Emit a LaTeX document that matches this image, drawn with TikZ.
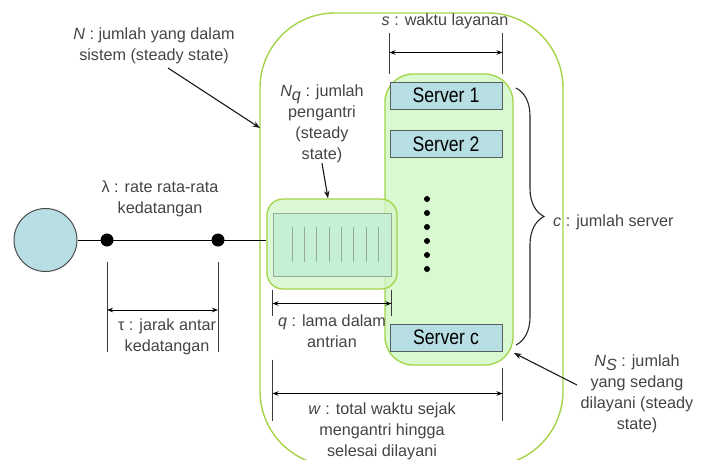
\documentclass[tikz,border=0pt]{standalone}
\usepackage{fontspec}
\setmainfont{Liberation Sans}
\newfontfamily\srvfont[FakeStretch=0.84]{Liberation Sans}
\usetikzlibrary{arrows.meta,decorations.pathreplacing,calc}

\definecolor{limeline}{RGB}{163,212,72}
\definecolor{zonefill}{RGB}{217,249,208}
\definecolor{queuefill}{RGB}{212,246,200}
\definecolor{slotfill}{RGB}{198,240,212}
\definecolor{slotline}{RGB}{150,172,152}
\definecolor{srvblue}{RGB}{183,222,227}
\definecolor{srvedge}{RGB}{85,95,95}
\definecolor{labelgray}{RGB}{68,68,68}
\definecolor{extgray}{RGB}{60,60,60}

\newcommand{\lowsub}[1]{\raisebox{-3.5pt}{\textit{#1}}}

\begin{document}
\begin{tikzpicture}[x=1pt,y=-1pt,
  lbl/.style={text=labelgray, align=center, inner sep=0pt,
    font=\fontsize{16.2}{21}\selectfont},
  sysbox/.style={draw=limeline, line width=1.4pt, rounded corners=75pt,
    minimum width=303pt, minimum height=453pt, inner sep=0pt},
  zone/.style={draw=limeline, line width=1.3pt, fill=zonefill,
    rounded corners=28pt, inner sep=0pt},
  qbox/.style={draw=limeline, line width=1.3pt, fill=queuefill,
    fill opacity=0.78, rounded corners=16pt, inner sep=0pt},
  slots/.style={draw=slotline, line width=1pt, fill=slotfill, inner sep=0pt},
  srv/.style={draw=srvedge, fill=srvblue, line width=1pt, inner sep=0pt,
    minimum width=112pt, minimum height=27pt,
    font=\srvfont\fontsize{21}{21}\selectfont},
  ext/.style={draw=extgray, line width=0.9pt},
  dim/.style={draw=black, line width=0.9pt,
    {Stealth[length=6pt,width=4.5pt]}-{Stealth[length=6pt,width=4.5pt]}},
  pointer/.style={draw=black!90, line width=1.1pt,
    -{Stealth[length=7.5pt,width=5.5pt]}},
  arrival/.style={circle, fill=black, minimum size=13pt, inner sep=0pt},
  idle/.style={circle, fill=black, minimum size=6pt, inner sep=0pt},
]
\useasboundingbox (0,0) rectangle (711,459);

% the whole queueing system
\node[sysbox] (sys) at (411.5,239.5) {};

% service area with the c servers
\node[zone, minimum width=128pt, minimum height=291pt] (srvzone) at (449,219.5) {};
\node[srv] (s1) at (446,95.5) {Server 1};
\node[srv] (s2) at (446,144) {Server 2};
\node[srv] (sc) at (446,337.5) {Server c};
\foreach \k [count=\i] in {199,213,227,241,255,269}
  \node[idle] (gap\i) at (427,\k) {};

% waiting line
\node[qbox, minimum width=130pt, minimum height=90pt] (queue) at (332,244) {};
\node[slots, minimum width=118pt, minimum height=63pt] (slots) at (332,244.5) {};
\foreach \xx in {292,304,316,329,341,353,366,378}
  \draw[draw=slotline, line width=0.9pt] (\xx,227) -- (\xx,262);

% source and arrivals
\node[circle, draw=black!70, fill=srvblue, line width=1pt, minimum size=63pt,
  inner sep=0pt] (src) at (45.5,240) {};
\draw[line width=0.9pt] (src.east) -- (src.east -| queue.west);
\node[arrival] (a1) at (107,240) {};
\node[arrival] (a2) at (218,240) {};

% inter-arrival time
\draw[ext] ($(a1)+(0,22)$) -- ($(a1)+(0,112)$);
\draw[ext] ($(a2)+(0,22)$) -- ($(a2)+(0,112)$);
\draw[dim] ($(a1)+(0,70)$) -- ($(a2)+(0,70)$);

% time in queue
\draw[ext] ($(slots.south west)+(0,13)$) -- ($(slots.south west)+(0,39)$);
\draw[ext] ($(slots.south east)+(0,13)$) -- ($(slots.south east)+(0,39)$);
\draw[dim] ($(slots.south west)+(0,27)$) -- ($(slots.south east)+(0,27)$);

% total time in system
\draw[ext] ($(slots.south west)+(0,83)$) -- ($(slots.south west)+(0,144)$);
\draw[ext] ($(sc.south east)+(0,16)$) -- ($(sc.south east)+(0,69)$);
\draw[dim] ($(slots.south west)+(0,117)$) -- ($(sc.south east)+(0,42)$);

% service time
\draw[ext] ($(s1.north west)+(0,-49)$) -- ($(s1.north west)+(0,-8)$);
\draw[ext] ($(s1.north east)+(0,-49)$) -- ($(s1.north east)+(0,-8)$);
\draw[dim] ($(s1.north west)+(0,-29)$) -- ($(s1.north east)+(0,-29)$);

% number of servers
\draw[decorate, decoration={brace, amplitude=28pt}, line width=1.1pt, black!85]
  (516,88) -- (516,345);

% labels
\node[lbl] (Nlab) at (154,46) {\textit{N} : jumlah yang dalam\\sistem (steady state)};
\node[lbl] (Nqlab) at (322,124) {\textit{N}\lowsub{q} : jumlah\\pengantri\\(steady\\state)};
\node[lbl] (lamlab) at (160,199) {λ : rate rata-rata\\kedatangan};
\node[lbl] (taulab) at (167,337) {τ : jarak antar\\kedatangan};
\node[lbl] (qlab) at (332,331) {\textit{q} : lama dalam\\antrian};
\node[lbl] (wlab) at (382,431) {\textit{w} : total waktu sejak\\mengantri hingga\\selesai dilayani};
\node[lbl] (slab) at (445,21) {\textit{s} : waktu layanan};
\node[lbl, anchor=west] (clab) at (553,222) {\textit{c} : jumlah server};
\node[lbl] (Nslab) at (637,394) {\textit{N}\lowsub{S} : jumlah\\yang sedang\\dilayani (steady\\state)};

% pointers
\coordinate (nTail) at (168,68);
\coordinate (nHead) at (260,128);
\draw[pointer] (nTail) -- (nHead);
\draw[pointer] (Nqlab.south) -- ($(queue.north)+(-4,0)$);
\coordinate (nsTail) at (577,385);
\coordinate (nsHead) at (514,353);
\draw[pointer] (nsTail) -- (nsHead);
\end{tikzpicture}
\end{document}
